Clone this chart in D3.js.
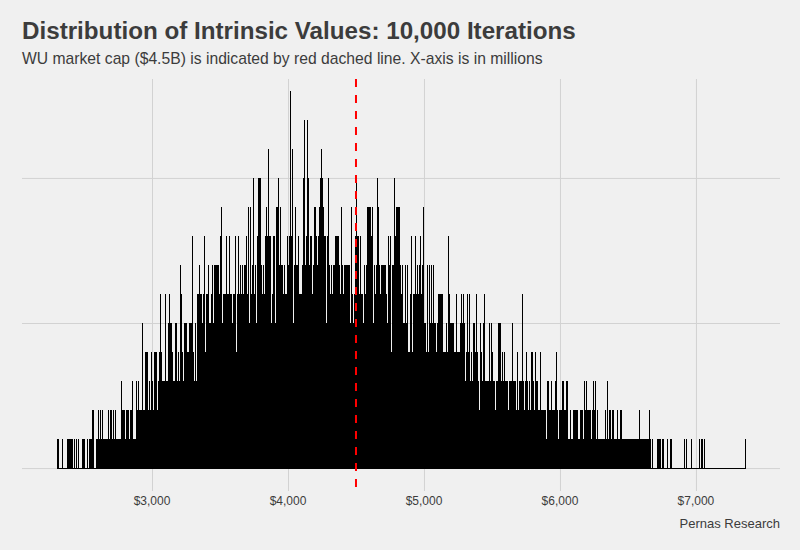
<!DOCTYPE html>
<html>
<head>
<meta charset="utf-8">
<script src="https://cdnjs.cloudflare.com/ajax/libs/d3/7.8.5/d3.min.js"></script>
<style>
  body { margin: 0; background: #F0F0F0; }
  text { font-family: "Liberation Sans", Arial, sans-serif; }
</style>
</head>
<body>
<script>

// histogram bins ($ millions), one count per bin
const binStart = 2300;
const binWidth = 7.35;
const counts = [
  1,1,0,0,0,1,0,0,0,0, 1,1,1,1,1,1,0,1,0,1, 0,1,0,0,0,1,1,1,0,0,
  1,0,1,1,1,2,2,0,0,1, 1,2,1,2,1,2,1,1,1,1, 1,2,1,2,2,1,2,1,2,1,
  1,1,1,1,3,2,2,2,1,2, 2,2,1,2,2,3,1,1,1,3, 2,3,2,2,2,5,2,2,4,4,
  4,2,3,2,4,3,2,4,4,4, 2,3,4,6,4,3,3,3,6,3, 3,5,6,5,5,4,3,3,5,5,
  3,4,3,7,6,4,3,5,5,5, 4,4,5,5,5,8,4,3,5,3, 6,6,7,6,6,5,6,8,4,6,
  6,7,5,5,6,7,5,7,7,7, 7,7,6,8,9,5,6,6,6,8, 6,6,8,6,6,5,6,6,8,4,
  6,8,6,7,6,7,6,7,7,8, 6,9,5,9,6,7,10,6,7,5, 8,10,10,10,7,6,7,6,8,9,
  8,11,8,8,5,6,8,8,5,9, 9,10,7,9,7,7,6,7,6,6, 8,7,8,13,8,11,5,7,9,7,
  7,8,6,6,6,7,10,12,7,8, 12,10,7,8,8,6,7,9,9,8, 7,8,9,10,11,10,9,8,8,5,
  8,10,7,6,7,6,7,7,8,8, 8,8,7,6,9,7,6,7,7,7, 7,7,7,5,9,6,5,6,8,10,
  8,8,6,8,6,6,5,7,6,7, 9,9,9,9,8,9,5,7,6,7, 10,9,7,6,7,7,7,7,7,6,
  5,8,7,8,4,7,7,10,8,9, 9,9,9,7,6,7,5,5,7,5, 7,4,4,6,8,4,6,6,8,6,
  7,6,7,8,6,7,9,5,5,4, 7,4,7,5,7,5,7,5,5,4, 5,6,6,6,6,6,4,4,4,5,
  4,8,6,5,5,5,5,4,4,6, 4,4,4,5,6,5,6,5,3,4, 6,4,6,3,4,3,5,5,4,6,
  4,3,2,5,4,3,5,6,3,3, 3,3,5,3,5,4,3,3,2,3, 3,5,5,5,3,4,3,4,3,3,
  3,2,3,3,3,5,3,3,3,2, 4,2,3,3,3,6,3,2,3,4, 3,2,3,2,4,4,3,2,4,3,
  3,2,2,4,2,2,2,2,2,1, 3,3,2,2,3,2,2,2,3,4, 2,1,2,2,2,3,3,2,2,3,
  3,1,1,2,1,1,2,2,2,2, 2,1,1,2,2,2,1,3,2,3, 2,2,2,2,1,2,3,2,3,1,
  2,1,1,1,1,1,1,1,2,1, 3,1,2,2,1,2,2,1,1,1, 2,1,1,2,2,1,1,1,1,1,
  1,1,1,1,1,1,1,1,1,1, 1,1,2,1,1,1,1,1,1,1, 1,1,2,1,0,1,0,0,0,0,
  1,1,1,1,0,1,1,0,0,0, 1,0,0,1,1,0,0,0,0,0, 0,0,0,0,0,0,0,1,0,1,
  0,0,0,0,1,0,0,0,0,0, 0,0,1,0,1,1,0,0,1,0, 0,0,0,0,0,0,0,0,0,0,
  0,0,0,0,0,0,0,0,0,0, 0,0,0,0,0,0,0,0,0,0, 0,0,0,0,0,0,0,0,0,1
];

const xTicks = [3000, 4000, 5000, 6000, 7000];
const yGrid = [0, 5, 10];
const marketCap = 4500;

const title = "Distribution of Intrinsic Values: 10,000 Iterations";
const subtitle = "WU market cap ($4.5B) is indicated by red dached line. X-axis is in millions";
const caption = "Pernas Research";

const W = 800;
const H = 550;
const padL = 22, padR = 780, padT = 79, padB = 491;

const svg = d3.select("body")
.append("svg")
.attr("width", W)
.attr("height", H);

svg.append("rect")
.attr("width", W)
.attr("height", H)
.attr("fill", "#F0F0F0");

const xScale = d3.scaleLinear()
.domain([2044, 7618])
.range([padL, padR]);

const yScale = d3.scaleLinear()
.domain([-0.79, 13.41])
.range([padB, padT]);

// gridlines
svg.append("g")
.attr("transform", `translate(0,${padB})`)
.call(d3.axisBottom(xScale).tickValues(xTicks).tickSize(-(padB - padT)).tickFormat(""))
.call(g => g.select(".domain").remove())
.call(g => g.selectAll("line").attr("stroke", "#D2D2D2").attr("stroke-width", 1));

svg.append("g")
.attr("transform", `translate(${padL},0)`)
.call(d3.axisLeft(yScale).tickValues(yGrid).tickSize(-(padR - padL)).tickFormat(""))
.call(g => g.select(".domain").remove())
.call(g => g.selectAll("line").attr("stroke", "#D2D2D2").attr("stroke-width", 1));

// bars
svg.append("g")
.attr("shape-rendering", "crispEdges")
.selectAll("rect")
.data(counts)
.enter()
.append("rect")
.attr("x", (d, i) => xScale(binStart + i * binWidth))
.attr("width", xScale(binWidth) - xScale(0))
.attr("y", (d) => yScale(d))
.attr("height", (d) => yScale(0) - yScale(d) + 1)
.attr("fill", "#000");

// market cap line
svg.append("line")
.attr("x1", xScale(marketCap))
.attr("x2", xScale(marketCap))
.attr("y1", padT)
.attr("y2", padB)
.attr("stroke", "#FF0000")
.attr("stroke-width", 2)
.attr("stroke-dasharray", "8,8");

// x tick labels
svg.append("g")
.selectAll("text")
.data(xTicks)
.enter()
.append("text")
.attr("x", (d) => xScale(d))
.attr("y", 505)
.attr("text-anchor", "middle")
.attr("font-size", 12)
.attr("fill", "#3C3C3C")
.text((d) => "$" + d3.format(",")(d));

svg.append("text")
.text(title)
.attr("x", 22)
.attr("y", 39)
.attr("font-size", 24.2)
.attr("font-weight", "bold")
.attr("fill", "#3C3C3C");

svg.append("text")
.text(subtitle)
.attr("x", 22)
.attr("y", 64)
.attr("font-size", 15.7)
.attr("fill", "#3C3C3C");

svg.append("text")
.text(caption)
.attr("x", padR)
.attr("y", 528)
.attr("text-anchor", "end")
.attr("font-size", 13)
.attr("fill", "#3C3C3C");

</script>
</body>
</html>
